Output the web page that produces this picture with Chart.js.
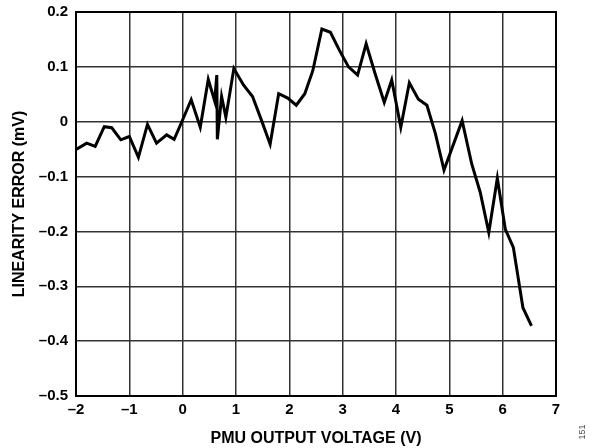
<!DOCTYPE html>
<html>
<head>
<meta charset="utf-8">
<script src="https://cdn.jsdelivr.net/npm/chart.js@4"></script>
<style>
  html, body { margin: 0; padding: 0; background: #fff; }
  .chart-box { width: 591px; height: 448px; position: relative; }
</style>
</head>
<body>
<div class="chart-box"><canvas id="chart"></canvas></div>
<script>
// PMU output voltage (V) and linearity error (mV)
const voltage = [
  -1.99, -1.80, -1.64, -1.47, -1.33, -1.16, -1.00, -0.83, -0.66, -0.49,
  -0.30, -0.16, -0.02, 0.16, 0.33, 0.48, 0.60, 0.64, 0.65, 0.73,
  0.81, 0.96, 1.14, 1.31, 1.48, 1.64, 1.80, 1.97, 2.13, 2.29,
  2.44, 2.61, 2.77, 2.94, 3.11, 3.28, 3.44, 3.61, 3.78, 3.92,
  4.09, 4.25, 4.42, 4.58, 4.74, 4.90, 5.24, 5.42, 5.58, 5.74,
  5.90, 6.05, 6.20, 6.38, 6.54
];
const linearityError = [
  -0.050, -0.039, -0.045, -0.009, -0.011, -0.033, -0.027, -0.065, -0.005, -0.039,
  -0.024, -0.032, -0.001, 0.040, -0.010, 0.077, 0.038, 0.085, -0.032, 0.046,
  0.008, 0.097, 0.067, 0.046, 0.002, -0.041, 0.051, 0.043, 0.030, 0.051,
  0.093, 0.169, 0.163, 0.130, 0.100, 0.085, 0.142, 0.087, 0.035, 0.076,
  -0.010, 0.071, 0.041, 0.030, -0.022, -0.088, 0.002, -0.077, -0.129, -0.202,
  -0.103, -0.196, -0.229, -0.339, -0.372
];
const xTicks = [-2, -1, 0, 1, 2, 3, 4, 5, 6, 7];
const yTicks = [0.2, 0.1, 0, -0.1, -0.2, -0.3, -0.4, -0.5];

const fontFamily = '"Liberation Sans", Arial, sans-serif';

const fmt = v => {
  const r = Math.round(v * 10) / 10;
  if (r === 0) return '0';
  return (r < 0 ? '\u2013' : '') + Math.abs(r).toString();
};

// little figure number on the right edge
const figNumber = {
  id: 'figNumber',
  afterDraw(chart) {
    const ctx = chart.ctx;
    ctx.save();
    ctx.translate(583, 432);
    ctx.rotate(-Math.PI / 2);
    ctx.font = '9px ' + fontFamily;
    ctx.fillStyle = '#444';
    ctx.textAlign = 'center';
    ctx.textBaseline = 'middle';
    ctx.fillText('151', 0, 0);
    ctx.restore();
  }
};

// heavy black frame round the plot area
const frame = {
  id: 'frame',
  afterDatasetsDraw(chart) {
    const a = chart.chartArea;
    const ctx = chart.ctx;
    ctx.save();
    ctx.strokeStyle = '#000';
    ctx.lineWidth = 2;
    ctx.strokeRect(a.left, a.top, a.right - a.left, a.bottom - a.top);
    ctx.restore();
  }
};

new Chart(document.getElementById('chart'), {
  type: 'scatter',
  data: {
    datasets: [{
      data: voltage.map((v, i) => ({x: v, y: linearityError[i]})),
      showLine: true,
      borderColor: '#000',
      borderWidth: 3,
      pointRadius: 0,
      tension: 0,
      borderJoinStyle: 'miter'
    }]
  },
  options: {
    responsive: true,
    maintainAspectRatio: false,
    animation: false,
    layout: {padding: {top: 12, right: 35, bottom: 0, left: 10}},
    plugins: {legend: {display: false}, tooltip: {enabled: false}},
    scales: {
      x: {
        type: 'linear',
        min: -2, max: 7,
        afterBuildTicks: s => { s.ticks = xTicks.map(v => ({value: v})); },
        afterFit: s => { s.height = 52; s.paddingLeft = 0; s.paddingRight = 0; },
        grid: {color: '#333', lineWidth: 1.5, drawTicks: false},
        border: {display: false},
        ticks: {
          color: '#000', padding: 5,
          font: {family: fontFamily, size: 15, weight: 'bold'},
          callback: v => fmt(v)
        },
        title: {
          display: true, text: 'PMU OUTPUT VOLTAGE (V)', color: '#000',
          font: {family: fontFamily, size: 16, weight: 'bold'},
          padding: {top: 5, bottom: 0}
        }
      },
      y: {
        type: 'linear',
        min: -0.5, max: 0.2,
        afterBuildTicks: s => { s.ticks = yTicks.map(v => ({value: v})); },
        afterFit: s => { s.width = 66; s.paddingTop = 0; s.paddingBottom = 0; },
        grid: {color: '#333', lineWidth: 1.5, drawTicks: false},
        border: {display: false},
        ticks: {
          color: '#000', padding: 8,
          font: {family: fontFamily, size: 15, weight: 'bold'},
          callback: v => fmt(v)
        },
        title: {
          display: true, text: 'LINEARITY ERROR (mV)', color: '#000',
          font: {family: fontFamily, size: 16, weight: 'bold'},
          padding: {top: 0, bottom: 4}
        }
      }
    }
  },
  plugins: [frame, figNumber]
});
</script>
</body>
</html>
